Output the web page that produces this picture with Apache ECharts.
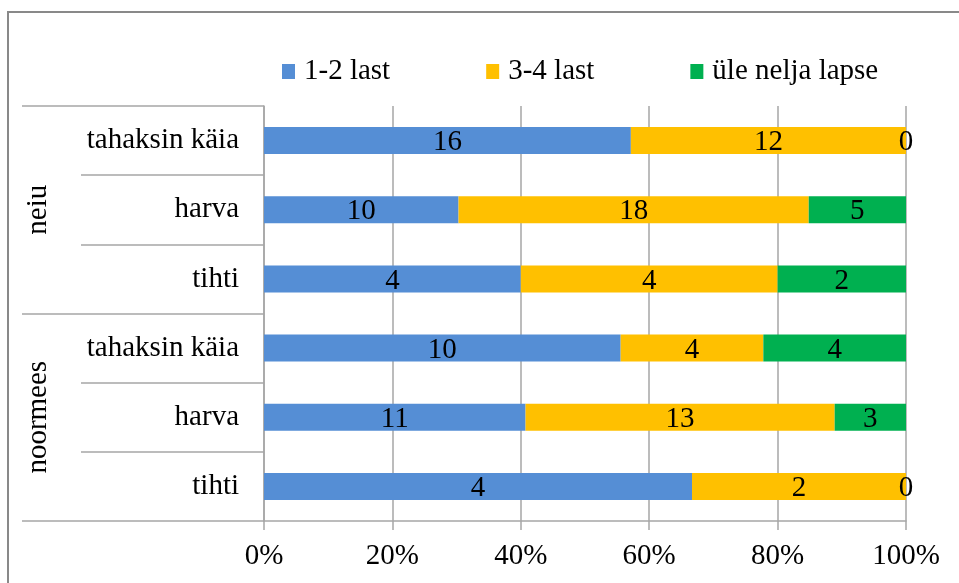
<!DOCTYPE html>
<html>
<head>
<meta charset="utf-8">
<script src="https://cdn.jsdelivr.net/npm/echarts@6/dist/echarts.min.js"></script>
<style>
  html, body { margin: 0; padding: 0; background: #fff; }
  #chart { width: 959px; height: 583px; }
</style>
</head>
<body>
<div id="chart"></div>
<script>
// rows top to bottom
const groups = ['neiu', 'noormees'];
const categories = ['tahaksin käia', 'harva', 'tihti', 'tahaksin käia', 'harva', 'tihti'];
const seriesNames = ['1-2 last', '3-4 last', 'üle nelja lapse'];
const counts12 = [16, 10, 4, 10, 11, 4];
const counts34 = [12, 18, 4, 4, 13, 2];
const countsOver4 = [0, 5, 2, 4, 3, 0];
const xTicks = [0, 20, 40, 60, 80, 100];

const colors = ['#558ed5', '#ffc000', '#00b050'];
const font = 'Liberation Serif';
const fs = 29;
const gray = '#a6a6a6';

const allCounts = [counts12, counts34, countsOver4];
const totals = categories.map((c, i) => counts12[i] + counts34[i] + countsOver4[i]);

const chart = echarts.init(document.getElementById('chart'));

const series = allCounts.map((arr, s) => ({
  name: seriesNames[s],
  type: 'bar',
  stack: 'total',
  yAxisIndex: 0,
  barWidth: 27,
  itemStyle: { color: colors[s] },
  label: {
    show: true,
    position: 'inside',
    offset: [0, 2],
    fontFamily: font,
    fontSize: fs,
    color: '#000',
    formatter: p => arr[p.dataIndex]
  },
  emphasis: { disabled: true },
  data: arr.map((v, i) => v / totals[i] * 100)
}));

chart.setOption({
  animation: false,
  textStyle: { fontFamily: font },
  graphic: [{
    type: 'rect',
    shape: { x: 8, y: 12, width: 1000, height: 640 },
    style: { fill: 'none', stroke: '#898989', lineWidth: 2 },
    silent: true
  }],
  legend: {
    top: 52,
    left: 277,
    itemWidth: 13,
    itemHeight: 15,
    itemGap: 96,
    icon: 'rect',
    textStyle: { fontFamily: font, fontSize: fs, color: '#000', padding: [0, 0, 0, 4] },
    data: seriesNames
  },
  grid: { left: 264, right: 53, top: 106, bottom: 62 },
  xAxis: {
    type: 'value',
    min: xTicks[0],
    max: xTicks[xTicks.length - 1],
    interval: 20,
    axisLine: { show: true, lineStyle: { color: gray, width: 1.5 } },
    axisTick: { show: true, length: 9, lineStyle: { color: gray, width: 1.5 } },
    splitLine: { show: true, lineStyle: { color: gray, width: 1.5 } },
    axisLabel: {
      fontFamily: font, fontSize: fs, color: '#000', margin: 21,
      formatter: '{value}%'
    }
  },
  yAxis: [{
    type: 'category',
    inverse: true,
    data: categories,
    axisLine: { show: true, lineStyle: { color: gray, width: 1.5 } },
    axisTick: { show: true, interval: 0, length: 183, lineStyle: { color: gray, width: 1.5 } },
    axisLabel: { interval: 0, fontFamily: font, fontSize: fs, color: '#000', margin: 25, padding: [5, 0, 0, 0] }
  }, {
    type: 'category',
    inverse: true,
    position: 'left',
    offset: 0,
    data: groups,
    axisLine: { show: false },
    axisTick: { show: true, interval: 0, length: 242, lineStyle: { color: gray, width: 1.5 } },
    axisLabel: { interval: 0, rotate: 90, fontFamily: font, fontSize: fs, color: '#000', margin: 211 }
  }],
  series: series
});
</script>
</body>
</html>
